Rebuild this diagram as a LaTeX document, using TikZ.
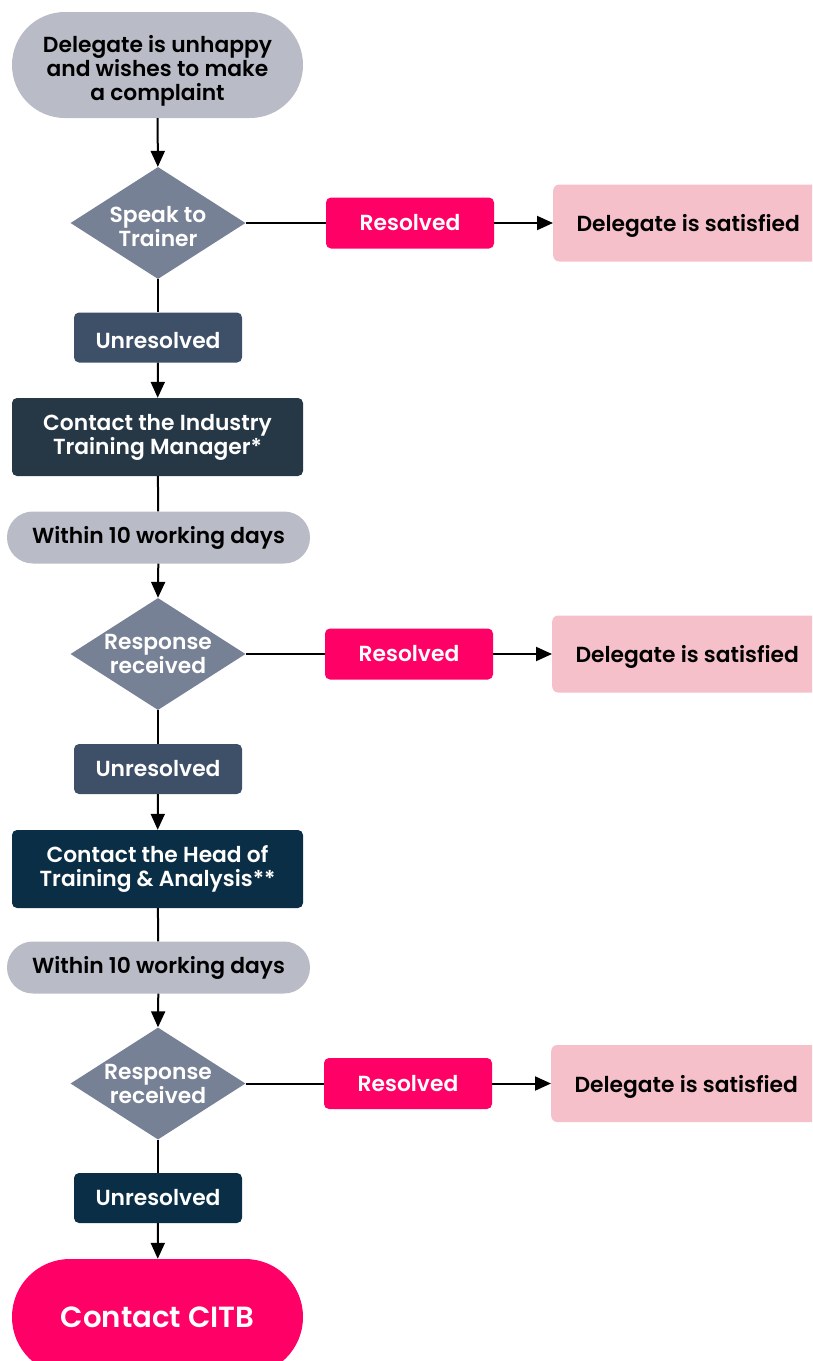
\documentclass[tikz,border=0pt]{standalone}
\usepackage{fontspec}
\setmainfont{Poppins}[BoldFont={Poppins SemiBold}]
\usetikzlibrary{shapes.geometric,arrows.meta}
\definecolor{pillgrey}{HTML}{B9BCC7}
\definecolor{diagrey}{HTML}{778196}
\definecolor{hotpink}{HTML}{FF0066}
\definecolor{lightpink}{HTML}{F5C0C9}
\definecolor{slateblue}{HTML}{3D5068}
\definecolor{darkslate}{HTML}{263746}
\definecolor{navy}{HTML}{0A2E45}
% raises the first line's height so that the text sits lower in its shape
\newcommand{\lowerby}[1]{\vrule height \dimexpr\fontcharht\font`l+#1\relax depth 0pt width 0pt}
\tikzset{
  base/.style={font=\bfseries\fontsize{21.8}{24}\selectfont, align=center, inner sep=0pt, draw=none},
  pill/.style={base, fill=pillgrey, text=black, rounded corners=#1},
  decision/.style={base, diamond, fill=diagrey, text=white, minimum width=175pt, minimum height=112pt, aspect=1.5625},
  resbox/.style={base, fill=hotpink, text=white, rounded corners=5pt, minimum width=168pt, minimum height=51pt},
  satbox/.style={base, fill=lightpink, text=black, rounded corners=6pt, minimum width=270pt, minimum height=77pt, text depth=0pt},
  unres/.style={base, fill=#1, text=white, rounded corners=5pt, minimum width=168pt, minimum height=50pt},
  contact/.style={base, fill=#1, text=white, rounded corners=5pt, minimum width=291pt, minimum height=78pt},
  conn/.style={line width=2pt, draw=black},
  arr/.style={conn, -{Triangle[length=16pt,width=14pt]}},
}
\begin{document}
\begin{tikzpicture}[x=1pt,y=-1pt]
\useasboundingbox (0,0) rectangle (812,1361);
\clip (0,0) rectangle (812,1361);
\node[pill=52.9pt, minimum width=291pt, minimum height=106pt] (start) at (157.5,65) {\lowerby{14pt}Delegate is unhappy\\and wishes to make\\a complaint};
\node[decision] (d1) at (158,223) {\lowerby{8pt}Speak to\\Trainer};
\node[resbox] (r1) at (410,223) {Resolved};
\node[satbox, anchor=west] (s1) at (553,223) {Delegate is satisfied};
\node[unres=slateblue] (u1) at (158,337.5) {\lowerby{6pt}Unresolved};
\node[contact=darkslate] (c1) at (157.5,437) {Contact the Industry\\Training Manager*};
\node[pill=25.9pt, minimum width=303pt, minimum height=52pt] (w1) at (158.5,537.5) {Within 10 working days};
\node[decision] (d2) at (158,654) {Response\\received};
\node[resbox] (r2) at (409,654) {Resolved};
\node[satbox, anchor=west] (s2) at (552,654) {Delegate is satisfied};
\node[unres=slateblue] (u2) at (158,769) {Unresolved};
\node[contact=navy] (c2) at (157.5,869) {Contact the Head of\\Training \& Analysis**};
\node[pill=25.9pt, minimum width=303pt, minimum height=52pt] (w2) at (158.5,967.5) {Within 10 working days};
\node[decision] (d3) at (158,1083.5) {Response\\received};
\node[resbox] (r3) at (408,1083.5) {Resolved};
\node[satbox, anchor=west] (s3) at (551,1083.5) {Delegate is satisfied};
\node[unres=navy] (u3) at (158,1198) {Unresolved};
\node[base, fill=hotpink, text=white, rounded corners=57.9pt, minimum width=291pt, minimum height=116pt, font=\bfseries\fontsize{29.2}{34}\selectfont] (citb) at (157.5,1317) {Contact CITB};
% connectors
\draw[arr] (start) -- (d1);
\draw[conn] (d1.east) -- (r1.west);
\draw[arr] (r1.east) -- (s1.west);
\draw[conn] (d1.south) -- (u1.north);
\draw[arr] (u1) -- (c1);
\draw[conn] (c1) -- (w1);
\draw[arr] (w1) -- (d2.north);
\draw[conn] (d2.east) -- (r2.west);
\draw[arr] (r2.east) -- (s2.west);
\draw[conn] (d2.south) -- (u2.north);
\draw[arr] (u2) -- (c2);
\draw[conn] (c2) -- (w2);
\draw[arr] (w2) -- (d3.north);
\draw[conn] (d3.east) -- (r3.west);
\draw[arr] (r3.east) -- (s3.west);
\draw[conn] (d3.south) -- (u3.north);
\draw[arr] (u3) -- (citb);
\end{tikzpicture}
\end{document}
